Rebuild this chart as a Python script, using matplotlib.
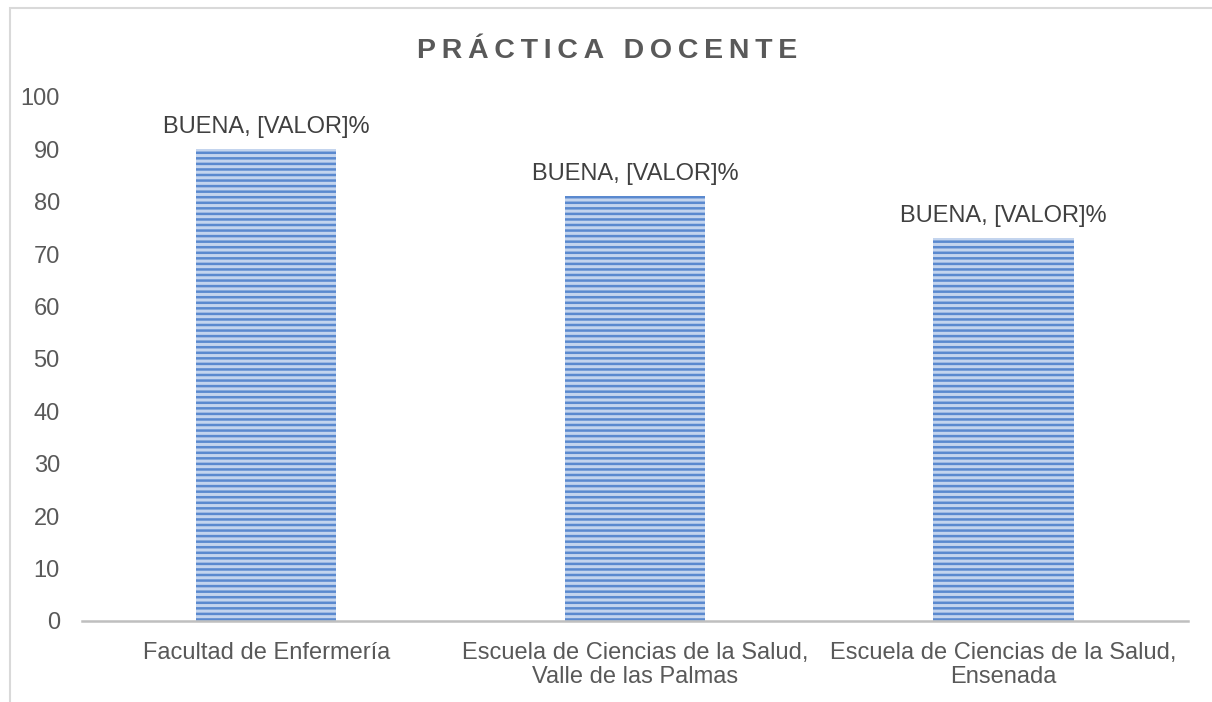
import matplotlib.pyplot as plt
from matplotlib.patches import Rectangle

# Datos
categorias = ['Facultad de Enfermería',
              'Escuela de Ciencias de la Salud,\nValle de las Palmas',
              'Escuela de Ciencias de la Salud,\nEnsenada']
valores = [90, 81, 73]
etiquetas = ['BUENA, [VALOR]%', 'BUENA, [VALOR]%', 'BUENA, [VALOR]%']
yticks = [0, 10, 20, 30, 40, 50, 60, 70, 80, 90, 100]

plt.rcParams['font.family'] = ['Liberation Sans', 'DejaVu Sans']
plt.rcParams['hatch.linewidth'] = 1.8

gris = '#595959'

fig = plt.figure(figsize=(12.12, 7.02), dpi=100)
ax = fig.add_axes([0.0677, 0.1154, 0.9123, 0.7466])

x = list(range(len(categorias)))
ax.bar(x, valores, width=0.38, color='#c3d4ee', edgecolor='#5a89cf',
       hatch='---', linewidth=0)

for xi, v, txt in zip(x, valores, etiquetas):
    ax.annotate(txt, (xi, v), xytext=(0, 8), textcoords='offset points',
                ha='center', va='bottom', fontsize=17, color='#404040')

ax.set_xlim(-0.5, 2.5)
ax.set_ylim(0, 100)
ax.set_yticks(yticks)
ax.set_xticks(x)
ax.set_xticklabels(categorias, linespacing=1.1)
ax.tick_params(axis='y', length=0, pad=16, labelsize=17, labelcolor=gris)
ax.tick_params(axis='x', length=0, pad=15, labelsize=17, labelcolor=gris)

for s in ['top', 'right', 'left']:
    ax.spines[s].set_visible(False)
ax.spines['bottom'].set_color('#bfbfbf')
ax.spines['bottom'].set_linewidth(1.8)

fig.text(0.501, 0.928, '\u2009'.join('PRÁCTICA DOCENTE'), ha='center', va='center',
         fontsize=20.5, fontweight='bold', color=gris)

# marco del gráfico
fig.patches.append(Rectangle((10 / 1212, -0.1), 1.2, 1.1 - 8 / 702,
                             transform=fig.transFigure, fill=False,
                             edgecolor='#d9d9d9', linewidth=1.5))

fig.savefig('out.png', dpi=100)
